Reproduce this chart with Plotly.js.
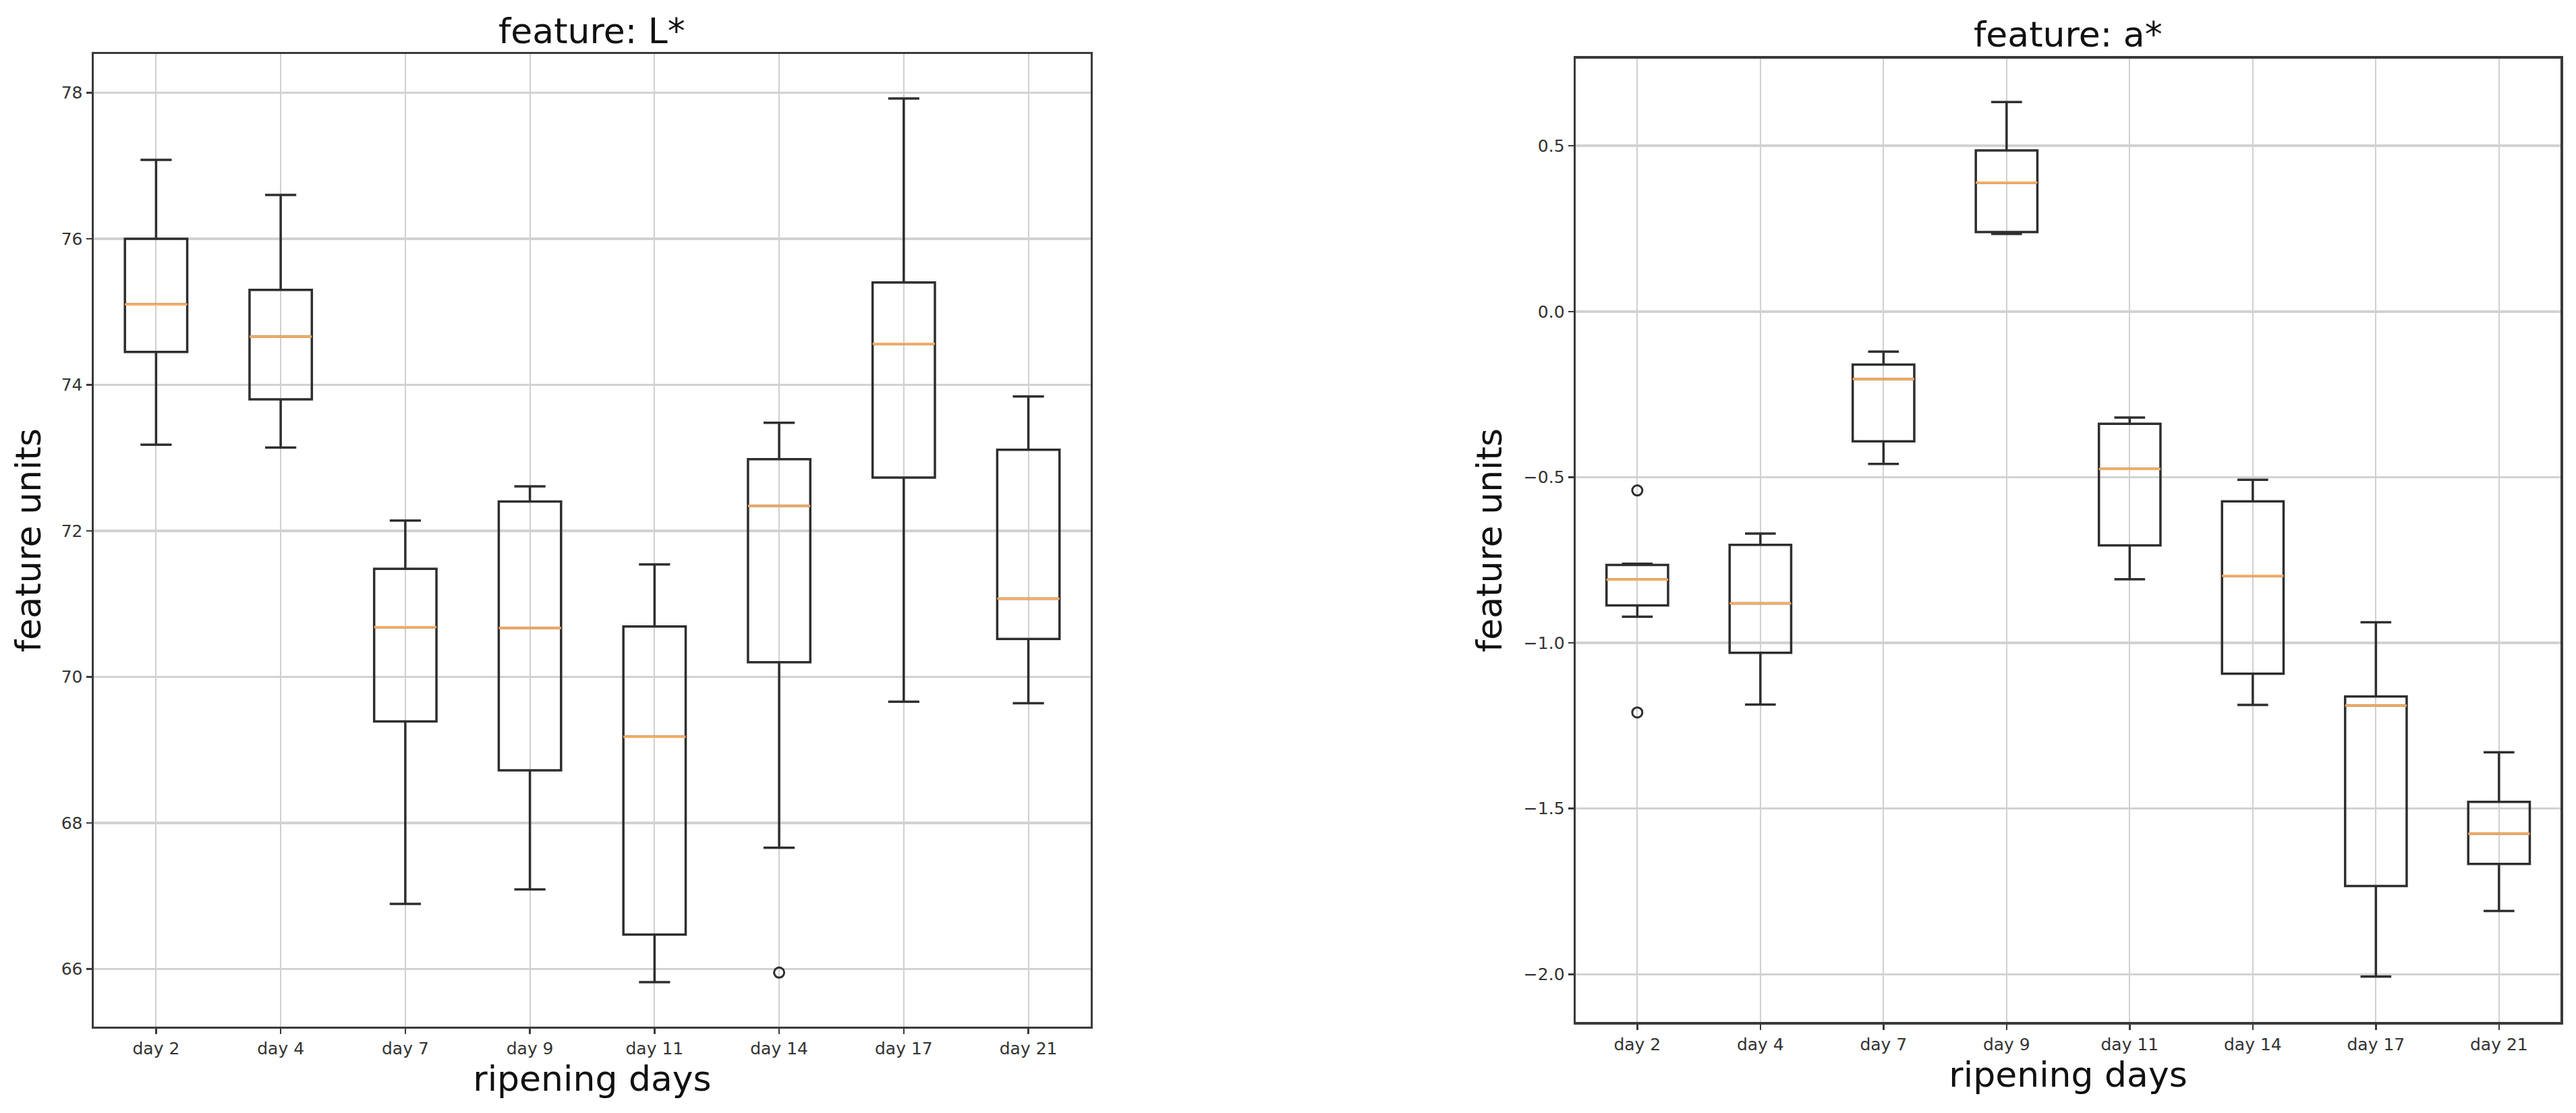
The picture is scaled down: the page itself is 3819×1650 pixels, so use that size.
<!DOCTYPE html>
<html>
<head>
<meta charset="utf-8">
<script src="https://cdn.plot.ly/plotly-3.0.1.min.js"></script>
<style>
  html, body { margin: 0; padding: 0; background: #fff; }
  #graph { width: 3819px; height: 1650px; }
</style>
</head>
<body>
<div id="graph"></div>
<script>
// ripening days on the x axis of both panels
var days = ['day 2', 'day 4', 'day 7', 'day 9', 'day 11', 'day 14', 'day 17', 'day 21'];

// feature L* box statistics
var lLower  = [73.18, 73.14, 66.89, 67.09, 65.82, 67.66, 69.66, 69.64];
var lQ1     = [74.45, 73.80, 69.39, 68.72, 66.47, 70.20, 72.73, 70.52];
var lMedian = [75.10, 74.66, 70.68, 70.67, 69.18, 72.34, 74.56, 71.07];
var lQ3     = [76.00, 75.30, 71.48, 72.40, 70.69, 72.98, 75.40, 73.11];
var lUpper  = [77.08, 76.60, 72.14, 72.61, 71.54, 73.48, 77.92, 73.84];
var lOutlierDays = ['day 14'];
var lOutliers    = [65.95];

// feature a* box statistics
var aLower  = [-0.921, -1.186, -0.460, 0.234, -0.808, -1.187, -2.007, -1.809];
var aQ1     = [-0.887, -1.030, -0.392, 0.240, -0.706, -1.093, -1.734, -1.667];
var aMedian = [-0.809, -0.881, -0.204, 0.389, -0.475, -0.798, -1.189, -1.576];
var aQ3     = [-0.765, -0.704, -0.160, 0.486, -0.339, -0.573, -1.162, -1.480];
var aUpper  = [-0.761, -0.670, -0.121, 0.632, -0.320, -0.508, -0.938, -1.330];
var aOutlierDays = ['day 2', 'day 2'];
var aOutliers    = [-0.540, -1.210];

var font = 'DejaVu Sans, Liberation Sans, sans-serif';
var boxColor = '#2e2e2e';
var medianColor = '#f6ad63';

// black box with whiskers and caps, matplotlib style
function boxTrace(xa, ya, lower, q1, median, q3, upper) {
    return {
        type: 'box', xaxis: xa, yaxis: ya,
        x: days, lowerfence: lower, q1: q1, median: median, q3: q3, upperfence: upper,
        width: 0.5, whiskerwidth: 0.5, boxpoints: false,
        fillcolor: 'rgba(255,255,255,0)',
        line: {color: boxColor, width: 3.5},
        hoverinfo: 'skip'
    };
}

// flat box drawn on top so the median shows in orange
function medianTrace(xa, ya, median) {
    return {
        type: 'box', xaxis: xa, yaxis: ya,
        x: days, lowerfence: median, q1: median, median: median, q3: median, upperfence: median,
        width: 0.5, whiskerwidth: 0, boxpoints: false,
        fillcolor: 'rgba(255,255,255,0)',
        line: {color: medianColor, width: 3.5},
        hoverinfo: 'skip'
    };
}

// fliers as open circles
function outlierTrace(xa, ya, xs, ys) {
    return {
        type: 'scatter', mode: 'markers', xaxis: xa, yaxis: ya,
        x: xs, y: ys,
        marker: {symbol: 'circle-open', size: 15, color: boxColor, line: {width: 3, color: boxColor}},
        hoverinfo: 'skip'
    };
}

function xAxis(domain, anchor, standoff) {
    return {
        domain: domain, anchor: anchor,
        type: 'category', categoryorder: 'array', categoryarray: days,
        range: [-0.5, 7.5],
        showline: true, mirror: true, linecolor: '#3a3a3a', linewidth: 3.5,
        ticks: 'outside', ticklen: 8, tickwidth: 2.5, tickcolor: '#3a3a3a',
        showgrid: true, gridcolor: '#d0d0d0', gridwidth: 2,
        tickfont: {family: font, size: 25, color: '#333'},
        title: {text: 'ripening days', font: {family: font, size: 52, color: '#111'}, standoff: standoff},
        zeroline: false
    };
}

function yAxis(domain, anchor, range, dtick, tickformat, standoff) {
    return {
        domain: domain, anchor: anchor,
        range: range, dtick: dtick, tick0: 0, tickformat: tickformat,
        showline: true, mirror: true, linecolor: '#3a3a3a', linewidth: 3.5,
        ticks: 'outside', ticklen: 8, tickwidth: 2.5, tickcolor: '#3a3a3a',
        showgrid: true, gridcolor: '#d2d2d2', gridwidth: 3.5,
        tickfont: {family: font, size: 25, color: '#333'},
        title: {text: 'feature units', font: {family: font, size: 52, color: '#111'}, standoff: standoff},
        zeroline: false
    };
}

var chartData = [
    boxTrace('x', 'y', lLower, lQ1, lMedian, lQ3, lUpper),
    medianTrace('x', 'y', lMedian),
    outlierTrace('x', 'y', lOutlierDays, lOutliers),
    boxTrace('x2', 'y2', aLower, aQ1, aMedian, aQ3, aUpper),
    medianTrace('x2', 'y2', aMedian),
    outlierTrace('x2', 'y2', aOutlierDays, aOutliers)
];

var layout = {
    width: 3819, height: 1650,
    margin: {l: 0, r: 0, t: 0, b: 0},
    paper_bgcolor: '#fff', plot_bgcolor: '#fff',
    showlegend: false, boxmode: 'overlay',
    font: {family: font},
    xaxis: xAxis([0.0364, 0.4234], 'y', 8),
    yaxis: yAxis([0.0776, 0.9515], 'x', [65.21, 78.53], 2, 'd', 14),
    xaxis2: xAxis([0.6117, 0.9940], 'y2', 8),
    yaxis2: yAxis([0.0818, 0.9473], 'x2', [-2.144, 0.763], 0.5, '.1f', 16),
    annotations: [
        {text: 'feature: L*', xref: 'paper', yref: 'paper', x: 0.2299, y: 0.972,
         xanchor: 'center', yanchor: 'middle', showarrow: false,
         font: {family: font, size: 52, color: '#111'}},
        {text: 'feature: a*', xref: 'paper', yref: 'paper', x: 0.8028, y: 0.969,
         xanchor: 'center', yanchor: 'middle', showarrow: false,
         font: {family: font, size: 52, color: '#111'}}
    ]
};

Plotly.newPlot('graph', chartData, layout, {staticPlot: true});
</script>
</body>
</html>
